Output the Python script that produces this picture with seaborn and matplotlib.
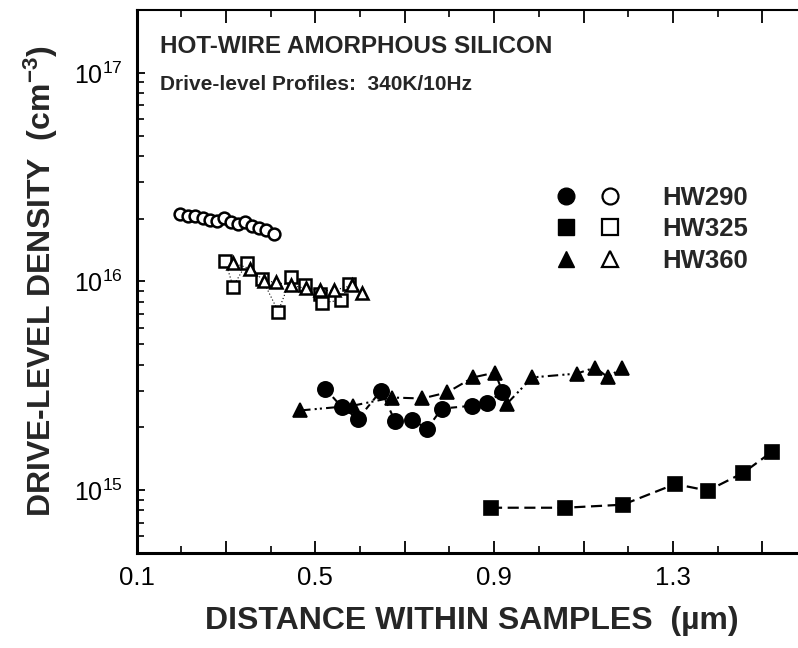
import numpy as np
import pandas as pd
import seaborn as sns
import matplotlib
matplotlib.use("Agg")
import matplotlib.pyplot as plt
from matplotlib.lines import Line2D
from matplotlib.legend_handler import HandlerTuple
from matplotlib.ticker import MultipleLocator, LogLocator, FuncFormatter, NullFormatter

# HW290 - circles
hw290_fill_x = [0.522, 0.560, 0.596, 0.647, 0.678, 0.716, 0.750, 0.783, 0.851, 0.884, 0.918]
hw290_fill_y = [3.07e15, 2.49e15, 2.20e15, 3.00e15, 2.15e15, 2.18e15, 1.97e15, 2.46e15, 2.54e15, 2.63e15, 2.94e15]
hw290_open_x = [0.197, 0.215, 0.231, 0.249, 0.264, 0.280, 0.296, 0.311, 0.327, 0.343, 0.358, 0.374, 0.390, 0.408]
hw290_open_y = [2.10e16, 2.07e16, 2.05e16, 2.01e16, 1.98e16, 1.94e16, 2.01e16, 1.92e16, 1.88e16, 1.92e16,
                1.84e16, 1.80e16, 1.76e16, 1.68e16]

# HW325 - squares
hw325_fill_x = [0.893, 1.059, 1.188, 1.305, 1.378, 1.457, 1.522]
hw325_fill_y = [8.24e14, 8.24e14, 8.52e14, 1.07e15, 9.95e14, 1.21e15, 1.53e15]
hw325_open_x = [0.298, 0.316, 0.347, 0.381, 0.417, 0.446, 0.477, 0.511, 0.515, 0.557, 0.575]
hw325_open_y = [1.26e16, 9.46e15, 1.23e16, 1.03e16, 7.18e15, 1.05e16, 9.58e15, 8.75e15, 7.93e15, 8.11e15, 9.78e15]

# HW360 - triangles
hw360_fill_x = [0.466, 0.584, 0.672, 0.739, 0.795, 0.853, 0.902, 0.929, 0.985, 1.085, 1.126, 1.155, 1.186]
hw360_fill_y = [2.41e15, 2.54e15, 2.78e15, 2.75e15, 2.94e15, 3.47e15, 3.66e15, 2.60e15, 3.47e15,
                3.62e15, 3.87e15, 3.47e15, 3.87e15]
hw360_open_x = [0.316, 0.354, 0.385, 0.412, 0.446, 0.479, 0.511, 0.542, 0.582, 0.605]
hw360_open_y = [1.23e16, 1.15e16, 1.01e16, 9.9e15, 9.6e15, 9.26e15, 9.06e15, 9.06e15, 9.58e15, 8.85e15]

sample_names = ["HW290", "HW325", "HW360"]

sns.set_theme(style="ticks")
plt.rcParams["font.family"] = ["Liberation Sans", "DejaVu Sans"]
plt.rcParams["mathtext.default"] = "regular"

fig = plt.figure(figsize=(7.98, 6.48), dpi=100)
ax = fig.add_axes([0.1711, 0.1466, 0.8402, 0.8380])
ax.set_yscale("log")

def draw(xs, ys, marker, ms, filled, ls, lw):
    df = pd.DataFrame({"x": xs, "y": ys})
    sns.lineplot(data=df, x="x", y="y", ax=ax, sort=False, color="black",
                 marker=marker, markersize=ms, linestyle=ls, linewidth=lw,
                 markerfacecolor="black" if filled else "white",
                 markeredgecolor="black", markeredgewidth=1.2 if filled else 1.8)

draw(hw290_fill_x, hw290_fill_y, "o", 11, True, (0, (3, 2.5)), 1.5)
draw(hw325_fill_x, hw325_fill_y, "s", 10.5, True, (0, (5, 2.5)), 1.6)
draw(hw360_fill_x, hw360_fill_y, "^", 10.5, True, (0, (5, 2, 1, 1.5, 1, 2)), 1.5)
draw(hw290_open_x, hw290_open_y, "o", 8.5, False, (0, (1, 2)), 0.8)
draw(hw325_open_x, hw325_open_y, "s", 8.5, False, (0, (1, 2)), 0.8)
draw(hw360_open_x, hw360_open_y, "^", 8.5, False, (0, (1, 2)), 0.8)

ax.set_xlim(0.1, 1.6)
ax.set_ylim(5e14, 2e17)

ax.xaxis.set_major_locator(MultipleLocator(0.2, offset=0.1))
ax.xaxis.set_minor_locator(MultipleLocator(0.1))
ax.xaxis.set_major_formatter(FuncFormatter(
    lambda v, _: f"{v:.1f}" if abs(((v - 0.1) / 0.4) - round((v - 0.1) / 0.4)) < 1e-6 else ""))
ax.yaxis.set_major_locator(LogLocator(base=10))
ax.yaxis.set_minor_locator(LogLocator(base=10, subs=np.arange(2, 10)))
ax.yaxis.set_minor_formatter(NullFormatter())
ax.yaxis.set_major_formatter(FuncFormatter(lambda v, _: r"$\mathregular{10^{%d}}$" % round(np.log10(v))))

ax.tick_params(axis="both", which="both", direction="in", colors="black", top=True, right=False)
ax.tick_params(axis="x", which="major", length=9, width=1.3, labelsize=18.5, pad=9)
ax.tick_params(axis="x", which="minor", length=5, width=1.2)
ax.tick_params(axis="y", which="major", length=6, width=1.3, labelsize=18, pad=10)
ax.tick_params(axis="y", which="minor", length=5, width=1.2)

for side in ["left", "bottom"]:
    ax.spines[side].set_linewidth(2.2)
    ax.spines[side].set_color("black")
ax.spines["top"].set_linewidth(1.5)
ax.spines["top"].set_color("black")
ax.spines["right"].set_visible(False)

ax.set_xlabel("DISTANCE WITHIN SAMPLES  (\u00b5m)", fontsize=23, fontweight="bold", labelpad=12)
ax.set_ylabel("DRIVE-LEVEL DENSITY  (cm$^{-3}$)", fontsize=23, fontweight="bold", labelpad=10)

ax.text(0.035, 0.921, "HOT-WIRE AMORPHOUS SILICON", transform=ax.transAxes,
        fontsize=17.5, fontweight="bold", va="baseline", ha="left")
ax.text(0.035, 0.853, "Drive-level Profiles:  340K/10Hz", transform=ax.transAxes,
        fontsize=15, fontweight="bold", va="baseline", ha="left")

handles = []
for m in ["o", "s", "^"]:
    handles.append((Line2D([], [], ls="none", marker=m, ms=12, mfc="black", mec="black"),
                    Line2D([], [], ls="none", marker=m, ms=11.5, mfc="white", mec="black", mew=1.6)))
ax.legend(handles, sample_names, handler_map={tuple: HandlerTuple(ndivide=None, pad=0)},
          loc="upper left", bbox_to_anchor=(0.588, 0.70), frameon=False, borderpad=0,
          handlelength=3.42, handletextpad=1.2, labelspacing=0.3,
          prop={"weight": "bold", "size": 18.5})

fig.savefig("out.png", dpi=100)
